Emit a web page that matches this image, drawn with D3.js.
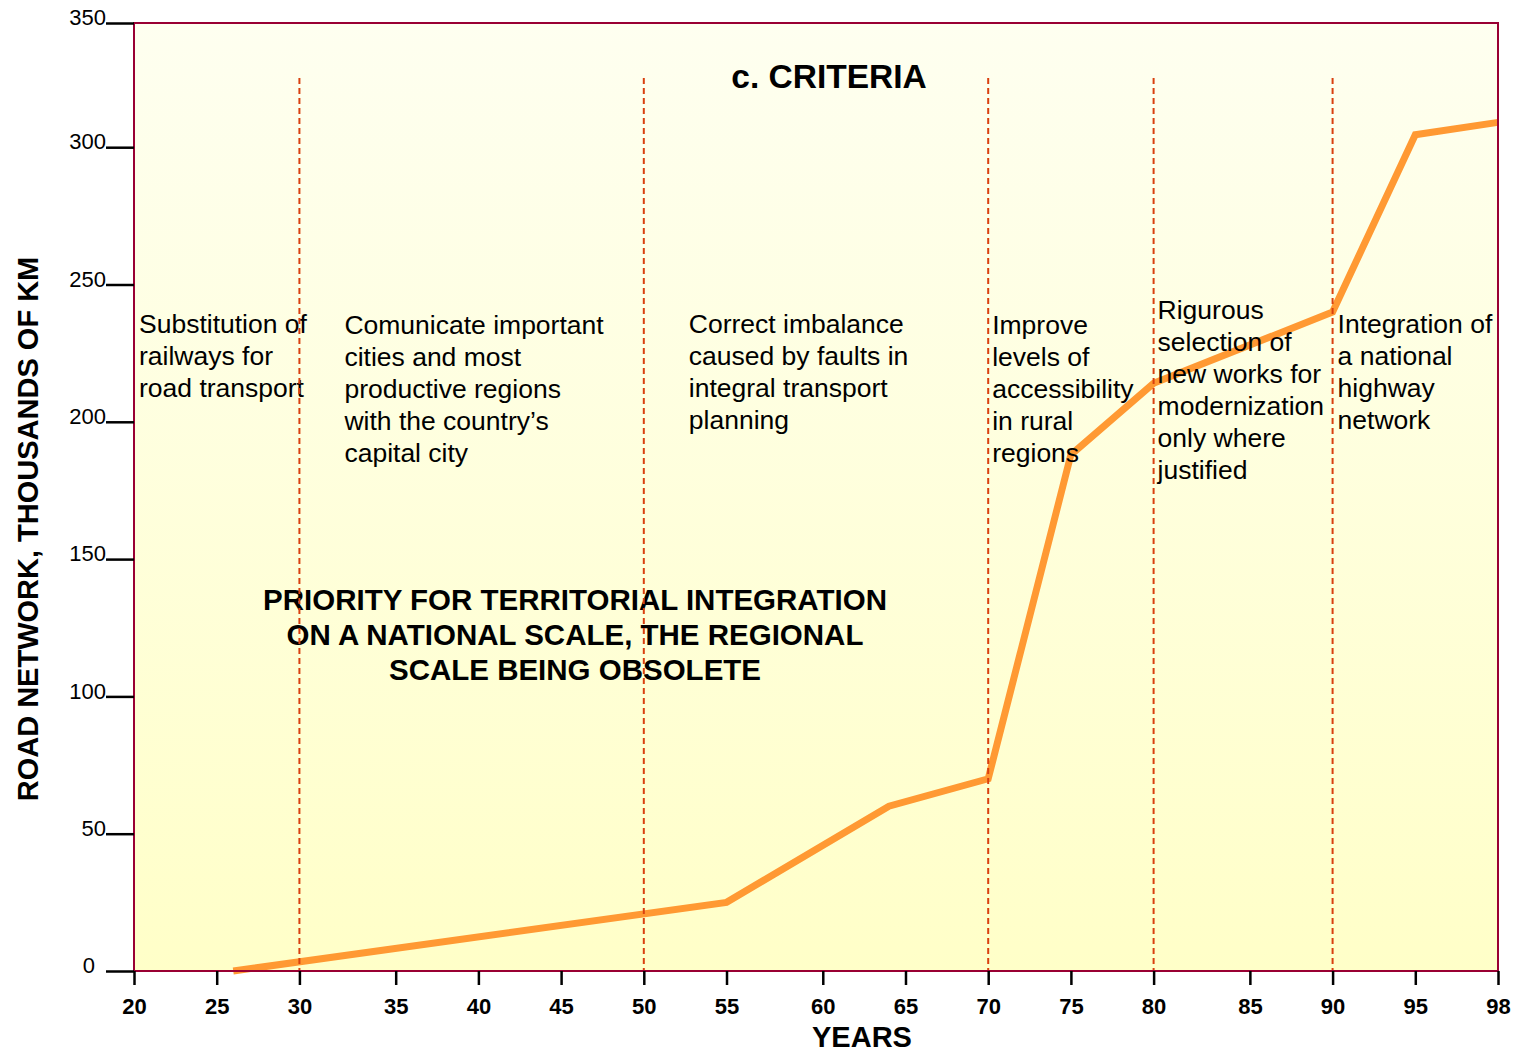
<!DOCTYPE html>
<html>
<head>
<meta charset="utf-8">
<script src="https://cdn.jsdelivr.net/npm/d3@7"></script>
<style>
  body { margin: 0; background: #fff; }
  text { font-family: "Liberation Sans", Arial, Helvetica, sans-serif; }
</style>
</head>
<body>
<svg id="chart" width="1517" height="1052"></svg>
<script>
// data
const yearTicks = [20, 25, 30, 35, 40, 45, 50, 55, 60, 65, 70, 75, 80, 85, 90, 95, 98];
const wideGaps = [30, 55, 80]; // the original axis draws these 5-year gaps a bit wider
const kmTicks = [0, 50, 100, 150, 200, 250, 300, 350];

const lineYears = [26, 55, 64, 70, 75, 80, 90, 95, 98];
const lineKm = [0, 25, 60, 70, 188, 214, 240, 305, 310];

const phaseYears = [30, 50, 70, 80, 90];

const criteriaYears = [20, 30, 50, 70, 80, 90];
const criteriaText = [
  ["Substitution of", "railways for", "road transport"],
  ["Comunicate important", "cities and most", "productive regions", "with the country\u2019s", "capital city"],
  ["Correct imbalance", "caused by faults in", "integral transport", "planning"],
  ["Improve", "levels of", "accessibility", "in rural", "regions"],
  ["Rigurous", "selection of", "new works for", "modernization", "only where", "justified"],
  ["Integration of", "a national", "highway", "network"]
];
const priorityText = [
  "PRIORITY FOR TERRITORIAL INTEGRATION",
  "ON A NATIONAL SCALE, THE REGIONAL",
  "SCALE BEING OBSOLETE"
];

const title = "c. CRITERIA";
const xTitle = "YEARS";
const yTitle = "ROAD NETWORK, THOUSANDS OF KM";

// layout
const margin = {top: 23, right: 19, bottom: 81, left: 134};
const width = 1517 - margin.left - margin.right;
const height = 1052 - margin.top - margin.bottom;

const svg = d3.select("#chart");

const defs = svg.append("defs");
const grad = defs.append("linearGradient")
    .attr("id", "bg")
    .attr("x1", 0).attr("y1", 0)
    .attr("x2", 0).attr("y2", 1);
grad.append("stop").attr("offset", "0%").attr("stop-color", "#fefff0");
grad.append("stop").attr("offset", "100%").attr("stop-color", "#ffffc8");

// x: uneven spacing like the original drawing
const gapWeights = yearTicks.slice(1).map((t, i) => wideGaps.includes(yearTicks[i]) ? 1.164 : 1);
const totalWeight = d3.sum(gapWeights);
const xRange = [0, ...Array.from(d3.cumsum(gapWeights), w => w / totalWeight * width)];
const x = d3.scaleLinear().domain(yearTicks).range(xRange);

// y: the last 50 is drawn shorter than the others in the original
const yStep = 137.3;
const y = d3.scaleLinear()
    .domain([0, 300, 350])
    .range([height, height - 6 * yStep, 0]);

const g = svg.append("g")
    .attr("transform", `translate(${margin.left},${margin.top})`);

g.append("rect")
    .attr("width", width)
    .attr("height", height)
    .attr("fill", "url(#bg)");

// road network line
const line = d3.line()
    .x(d => x(d[0]))
    .y(d => y(d[1]));

g.append("path")
    .datum(d3.zip(lineYears, lineKm))
    .attr("d", line)
    .attr("fill", "none")
    .attr("stroke", "#ff9933")
    .attr("stroke-width", 7)
    .attr("stroke-linejoin", "miter");

// criteria text blocks
const blockDx = [5, 45, 45, 4, 4, 5];
const blockTop = [310, 311, 310, 311, 296, 310];

criteriaText.forEach((lines, i) => {
  const t = g.append("text")
      .attr("font-size", 26.5)
      .attr("fill", "#000");
  t.selectAll("tspan")
      .data(lines)
      .join("tspan")
      .attr("x", x(criteriaYears[i]) + blockDx[i])
      .attr("y", (d, j) => blockTop[i] + j * 32)
      .text(d => d);
});

// big bold note
g.append("text")
    .attr("font-size", 29.5)
    .attr("font-weight", "bold")
    .attr("text-anchor", "middle")
    .selectAll("tspan")
    .data(priorityText)
    .join("tspan")
    .attr("x", 441)
    .attr("y", (d, i) => 587 + i * 35)
    .text(d => d);

// title
g.append("text")
    .attr("x", 695)
    .attr("y", 65)
    .attr("text-anchor", "middle")
    .attr("font-size", 33.5)
    .attr("font-weight", "bold")
    .text(title);

// phase separators
g.selectAll("line.phase")
    .data(phaseYears)
    .join("line")
    .attr("class", "phase")
    .attr("x1", d => x(d))
    .attr("x2", d => x(d))
    .attr("y1", 55)
    .attr("y2", height)
    .attr("stroke", "#d9400f")
    .attr("stroke-width", 2)
    .attr("stroke-dasharray", "6,4");

// frame
g.append("rect")
    .attr("width", width)
    .attr("height", height)
    .attr("fill", "none")
    .attr("stroke", "#990033")
    .attr("stroke-width", 2);

// x axis
const xAxis = g.append("g")
    .attr("transform", `translate(0,${height})`)
    .call(d3.axisBottom(x).tickValues(yearTicks).tickFormat(d3.format("d")).tickSize(14).tickPadding(13));
xAxis.select(".domain").remove();
xAxis.selectAll(".tick line").attr("stroke", "#000").attr("stroke-width", 2.5);
xAxis.selectAll(".tick text")
    .attr("font-size", 22)
    .attr("font-weight", "bold")
    .attr("fill", "#000")
    .attr("font-family", "'Liberation Sans', Arial, sans-serif");

// y axis
const yAxis = g.append("g")
    .call(d3.axisLeft(y).tickValues(kmTicks).tickSize(28).tickPadding(0));
yAxis.select(".domain").remove();
yAxis.selectAll(".tick line").attr("stroke", "#000").attr("stroke-width", 2.5);
yAxis.selectAll(".tick text")
    .attr("font-size", 22)
    .attr("fill", "#000")
    .attr("dy", "0.08em")
    .attr("dx", d => d === 0 ? -11 : 0)
    .attr("font-family", "'Liberation Sans', Arial, sans-serif");

// axis titles
svg.append("text")
    .attr("x", 862)
    .attr("y", 1047)
    .attr("text-anchor", "middle")
    .attr("font-size", 29)
    .attr("font-weight", "bold")
    .text(xTitle);

svg.append("text")
    .attr("transform", "translate(38,529) rotate(-90)")
    .attr("text-anchor", "middle")
    .attr("font-size", 29)
    .attr("font-weight", "bold")
    .text(yTitle);
</script>
</body>
</html>
